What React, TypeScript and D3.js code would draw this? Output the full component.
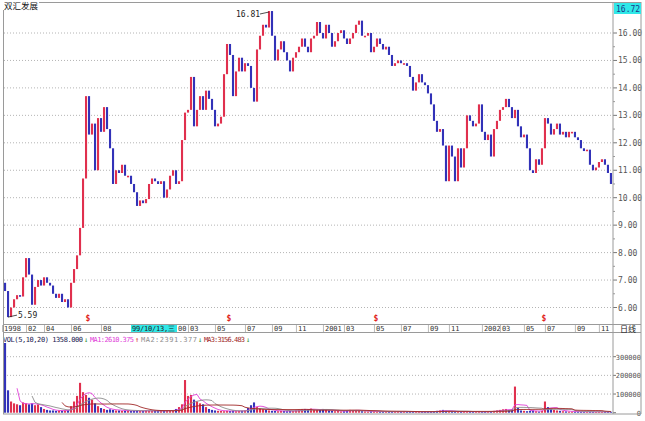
import React from 'react';
import * as d3 from 'd3';

const closes = [
  6.6, 5.65, 6.0, 6.3, 6.45, 6.4, 7.1, 7.8, 7.2, 6.1,
  6.75, 7.0, 6.8, 7.1, 6.9, 6.8, 6.5, 6.35, 6.5, 6.2,
  6.3, 6.0, 6.9, 7.4, 7.9, 8.9, 10.7, 13.7, 12.3, 12.7,
  11.0, 12.9, 12.4, 13.3, 12.5, 11.8, 10.5, 11.0, 10.9, 11.2,
  10.8, 10.8, 10.5, 10.2, 9.7, 9.9, 9.8, 9.95, 10.5, 10.7,
  10.6, 10.5, 10.6, 10.0, 10.3, 10.8, 11.0, 10.5, 10.6, 12.1,
  13.1, 13.2, 14.4, 12.6, 13.2, 13.7, 13.2, 13.9, 13.6, 13.2,
  12.6, 12.7, 12.95, 14.5, 15.6, 15.2, 13.7, 14.6, 15.1, 14.6,
  14.9, 14.8, 14.0, 13.5, 15.4, 15.9, 16.3, 16.2, 16.8, 15.9,
  15.0, 15.4, 15.7, 15.3, 15.0, 14.6, 15.1, 15.3, 15.5, 15.8,
  15.5, 15.3, 15.8, 15.9, 16.4, 16.0, 15.8, 16.3, 16.0, 15.5,
  15.7, 16.0, 16.1, 15.8, 15.6, 15.8, 16.0, 16.3, 16.45, 15.9,
  15.9, 16.0, 15.3, 15.5, 15.8, 15.6, 15.4, 15.5, 15.2, 14.8,
  14.9, 15.0, 14.9, 14.9, 14.8, 14.4, 13.9, 14.2, 14.5, 14.2,
  14.1, 13.8, 13.4, 12.8, 12.4, 12.5, 11.9, 10.6, 11.9, 11.5,
  10.6, 11.8, 11.1, 11.8, 13.0, 12.8, 12.6, 12.7, 13.4, 12.4,
  12.1, 12.3, 11.5, 12.5, 12.8, 13.2, 13.3, 13.6, 13.3, 12.9,
  13.2, 12.6, 12.2, 12.3, 11.8, 11.0, 10.9, 11.4, 11.2, 11.8,
  12.9, 12.7, 12.3, 12.5, 12.7, 12.3, 12.4, 12.2, 12.4, 12.4,
  12.2, 12.1, 11.8, 11.7, 11.75, 11.2, 11.0, 11.1, 11.3, 11.4,
  11.2, 10.9, 10.5,
];
const firstOpen = 6.9;

// volume in thousands of shares
const volumes = [
  380, 120, 60, 50, 45, 40, 55, 50, 45, 50,
  40, 45, 30, 20, 15, 12, 12, 10, 12, 10,
  12, 15, 35, 60, 90, 160, 110, 95, 80, 70,
  50, 35, 25, 20, 15, 18, 15, 12, 12, 10,
  10, 12, 9, 10, 11, 9, 10, 12, 10, 9,
  10, 9, 11, 10, 12, 14, 12, 20, 30, 45,
  175, 90, 95, 70, 60, 50, 45, 30, 20, 15,
  12, 10, 9, 8, 10, 9, 11, 8, 9, 10,
  12, 25, 40, 55, 30, 25, 18, 15, 12, 10,
  9, 8, 10, 9, 8, 10, 9, 12, 15, 18,
  20, 18, 22, 15, 14, 16, 20, 15, 12, 10,
  8, 9, 7, 8, 12, 15, 14, 12, 10, 8,
  7, 6, 8, 7, 6, 5, 6, 7, 6, 5,
  5, 6, 5, 7, 6, 5, 6, 5, 4, 5,
  5, 6, 5, 8, 10, 12, 15, 10, 8, 6,
  5, 6, 5, 6, 7, 6, 5, 6, 5, 4,
  5, 6, 8, 10, 12, 15, 18, 20, 15, 18,
  140, 25, 12, 10, 8, 10, 12, 8, 6, 10,
  60, 30, 20, 15, 12, 10, 8, 7, 6, 6,
  5, 6, 5, 4, 5, 6, 5, 4, 5, 6,
  5, 4, 5,
];

const priceTicks = [6, 7, 8, 9, 10, 11, 12, 13, 14, 15, 16];
const volTicks = [0, 100000, 200000, 300000];
const dateLabels = ['1998', '02', '04', '06', '08', '00', '03', '05', '07', '09', '11',
  '2001', '03', '05', '07', '09', '11', '2002', '03', '05', '07', '09', '11'];
const dateBars = [0, 8, 14, 23, 33, 58, 62, 71, 81, 90, 98,
  107, 114, 124, 133, 142, 149, 160, 166, 174, 181, 191, 199];
const dividendBars = [28, 75, 124, 180];

const UP = '#e0304e';
const DOWN = '#3232b8';
const GRID = '#b4b4b4';
const FRAME = '#9a9a9a';
const MONO = '"DejaVu Sans Mono", "Liberation Mono", monospace';
const CJK = '"Noto Sans CJK SC", sans-serif';

const App: React.FC = () => {
  const width = 645;
  const height = 421;
  const left = 4;
  const axisX = 613;

  const x = d3.scaleBand<number>().domain(d3.range(closes.length)).range([left, 612]).paddingInner(0.3);
  const bw = x.bandwidth();
  const y = d3.scaleLinear().domain([6, 16]).range([307.5, 33]);
  const yv = d3.scaleLinear().domain([0, 300000]).range([412.7, 356.7]);

  const opens = closes.map((c, i) => (i === 0 ? firstOpen : closes[i - 1]));
  const vols = volumes.map((v) => v * 1000);

  const maWindows = [5, 10, 20];
  const maColors = ['#e040d8', '#8c8c8c', '#a02828'];
  const maLines = maWindows.map((w) => {
    const pts: [number, number][] = [];
    vols.forEach((_, i) => {
      if (i < w - 1) return;
      pts.push([x(i)! + bw / 2, yv(d3.mean(vols.slice(i - w + 1, i + 1))!)]);
    });
    return d3.line()(pts) || '';
  });

  const hiIdx = d3.maxIndex(closes);
  const loIdx = d3.minIndex(closes);
  const minorTicks = d3.range(6, 16.01, 0.5).filter((v) => v % 1 !== 0);

  return (
    <svg width={width} height={height} style={{ position: 'absolute', left: 0, top: 0, background: '#fff' }}>
      {/* price grid */}
      {priceTicks.map((t) => (
        <g key={t}>
          <line x1={left} x2={axisX} y1={y(t)} y2={y(t)} stroke={GRID} strokeDasharray="1,2" />
          <line x1={axisX} x2={axisX + 4} y1={y(t)} y2={y(t)} stroke="#777" />
          <text x={618} y={y(t) + 3} fontSize={8} fontFamily={MONO} fill="#555">{t.toFixed(2)}</text>
        </g>
      ))}
      {minorTicks.map((t) => (
        <line key={t} x1={axisX} x2={axisX + 2} y1={y(t)} y2={y(t)} stroke="#999" />
      ))}

      {/* candles */}
      {closes.map((c, i) => {
        const o = opens[i];
        const top = y(Math.max(o, c));
        const h = Math.max(1.6, Math.abs(y(o) - y(c)));
        return <rect key={i} x={x(i)} y={top} width={bw} height={h} fill={c >= o ? UP : DOWN} />;
      })}

      {/* high / low marks */}
      <text x={x(hiIdx)! - 32} y={17} fontSize={8} fontFamily={MONO} fill="#222">16.81</text>
      <line x1={x(hiIdx)! - 8} y1={14} x2={x(hiIdx)! + bw / 2} y2={y(closes[hiIdx]) + 1} stroke="#222" strokeWidth={0.8} />
      <line x1={x(loIdx)! + bw / 2} y1={y(closes[loIdx])} x2={x(loIdx)! + 10} y2={y(closes[loIdx]) - 2} stroke="#222" strokeWidth={0.8} />
      <text x={x(loIdx)! + 11} y={y(closes[loIdx]) + 1} fontSize={8} fontFamily={MONO} fill="#222">5.59</text>

      {/* ex-dividend markers */}
      {dividendBars.map((b) => (
        <text key={b} x={x(b)} y={321} fontSize={8} fontFamily={MONO} fontWeight="bold" fill="#e02020" textAnchor="middle">$</text>
      ))}

      {/* date band */}
      <line x1={3} x2={641} y1={324.5} y2={324.5} stroke={FRAME} />
      <line x1={3} x2={641} y1={332.5} y2={332.5} stroke={FRAME} />
      {dateLabels.map((d, i) => (
        <g key={i}>
          <line x1={x(dateBars[i])! - 1.5} x2={x(dateBars[i])! - 1.5} y1={325} y2={332} stroke="#bbb" />
          <text x={x(dateBars[i])} y={331} fontSize={7} fontFamily={MONO} fill="#333">{d}</text>
        </g>
      ))}
      <rect x={131} y={325} width={46} height={7} fill="#30e8e8" />
      <text x={132} y={331} fontSize={7} fontFamily={MONO} fill="#222" textLength={43}>99/10/13,三</text>
      <text x={620} y={331.5} fontSize={8} fontFamily={CJK} fill="#222">日线</text>

      {/* volume header */}
      <text y={342} fontSize={7} fontFamily={MONO}>
        <tspan x={3} fill="#202050" textLength={80}>VOL(5,10,20) 1358.000</tspan>
        <tspan x={84} fill="#2a8a2a">↓</tspan>
        <tspan x={90} fill={maColors[0]} textLength={44}>MA1:2610.375</tspan>
        <tspan x={135} fill="#d02020">↑</tspan>
        <tspan x={141} fill={maColors[1]} textLength={56}>MA2:2391.377</tspan>
        <tspan x={198} fill="#2a8a2a">↓</tspan>
        <tspan x={204} fill={maColors[2]} textLength={41}>MA3:3156.483</tspan>
        <tspan x={246} fill="#2a8a2a">↓</tspan>
      </text>

      {/* volume grid */}
      {volTicks.map((t) => (
        <g key={t}>
          {t > 0 && <line x1={left} x2={axisX} y1={yv(t)} y2={yv(t)} stroke={GRID} strokeDasharray="1,2" />}
          <line x1={axisX} x2={axisX + 3} y1={yv(t)} y2={yv(t)} stroke="#777" />
          <text x={641} y={yv(t) + 3} fontSize={7} fontFamily={MONO} fill="#555" textAnchor="end">{t}</text>
        </g>
      ))}

      {/* volume bars */}
      {vols.map((v, i) => (
        <rect key={i} x={x(i)} y={Math.max(343, yv(v))} width={bw} height={yv(0) - Math.max(343, yv(v))}
          fill={closes[i] >= opens[i] ? UP : DOWN} />
      ))}
      {maLines.map((d, i) => (
        <path key={i} d={d} fill="none" stroke={maColors[i]} strokeWidth={0.9} />
      ))}

      {/* frame */}
      <line x1={3} x2={641} y1={2.5} y2={2.5} stroke={FRAME} />
      <line x1={3.5} x2={3.5} y1={2} y2={414} stroke={FRAME} />
      <line x1={axisX} x2={axisX} y1={2} y2={414} stroke={FRAME} />
      <line x1={641} x2={641} y1={2} y2={414} stroke={FRAME} />
      <line x1={3} x2={641} y1={414} y2={414} stroke={FRAME} />

      <rect x={3} y={0} width={36} height={10} fill="#fff" />
      <text x={4} y={9} fontSize={8.5} fontFamily={CJK} fill="#111">双汇发展</text>
      <rect x={614} y={3} width={27} height={11} fill="#30e8e8" />
      <text x={616} y={12} fontSize={8} fontFamily={MONO} fill="#1a3a8a">16.72</text>
    </svg>
  );
};

export default App;
